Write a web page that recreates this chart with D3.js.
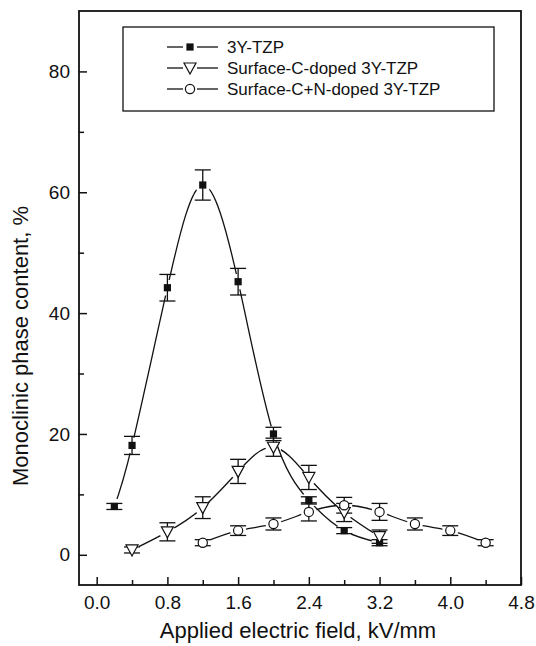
<!DOCTYPE html>
<html>
<head>
<meta charset="utf-8">
<script src="https://cdn.jsdelivr.net/npm/d3@7"></script>
<style>
  body { margin: 0; background: #fff; }
  text { font-family: "Liberation Sans", Arial, sans-serif; fill: #111; }
</style>
</head>
<body>
<div id="chart"></div>
<script>
// field values, kV/mm
var fieldTZP = [0.2, 0.4, 0.8, 1.2, 1.6, 2.0, 2.4, 2.8, 3.2];
var monoTZP = [8, 18.1, 44.2, 61.2, 45.2, 20, 9, 4, 2];
var errTZP = [0.5, 1.5, 2.2, 2.5, 2.2, 1.1, 0.6, 0.5, 0.5];

var fieldC = [0.4, 0.8, 1.2, 1.6, 2.0, 2.4, 2.8, 3.2];
var monoC = [0.8, 3.8, 7.8, 13.8, 17.8, 12.8, 7, 3];
var errC = [0.5, 1.5, 1.8, 2, 1.5, 2, 1.5, 1.1];

var fieldCN = [1.2, 1.6, 2.0, 2.4, 2.8, 3.2, 3.6, 4.0, 4.4];
var monoCN = [2, 4, 5.1, 7.1, 8.2, 7.1, 5.1, 4, 2];
var errCN = [0.5, 0.8, 1, 1.5, 1.3, 1.4, 1, 0.8, 0.5];

var seriesNames = ["3Y-TZP", "Surface-C-doped 3Y-TZP", "Surface-C+N-doped 3Y-TZP"];
var xMajor = [0, 0.8, 1.6, 2.4, 3.2, 4.0, 4.8];
var xMinor = [0.4, 1.2, 2.0, 2.8, 3.6, 4.4];
var yMajor = [0, 20, 40, 60, 80];
var yMinor = [10, 30, 50, 70];

var width = 536, height = 646;
var margin = {top: 11, right: 15, bottom: 61, left: 79};
var iw = width - margin.left - margin.right,
    ih = height - margin.top - margin.bottom;

var svg = d3.select("#chart").append("svg")
    .attr("width", width)
    .attr("height", height);

var x = d3.scaleLinear().domain([-0.2, 4.8]).range([0, iw]);
var y = d3.scaleLinear().domain([-5, 90]).range([ih, 0]);

var g = svg.append("g")
    .attr("transform", "translate(" + margin.left + "," + margin.top + ")");

// axes, ticks point inward
g.append("g")
    .attr("transform", "translate(0," + ih + ")")
    .call(d3.axisBottom(x).tickValues(xMajor).tickFormat(d3.format(".1f"))
      .tickSizeInner(-8).tickSizeOuter(0).tickPadding(11));
g.append("g")
    .attr("transform", "translate(0," + ih + ")")
    .call(d3.axisBottom(x).tickValues(xMinor).tickFormat("")
      .tickSizeInner(-5).tickSizeOuter(0));
g.append("g")
    .call(d3.axisLeft(y).tickValues(yMajor).tickFormat(d3.format("d"))
      .tickSizeInner(-8).tickSizeOuter(0).tickPadding(9));
g.append("g")
    .call(d3.axisLeft(y).tickValues(yMinor).tickFormat("")
      .tickSizeInner(-5).tickSizeOuter(0));

g.selectAll(".domain").remove();
g.selectAll(".tick line").attr("stroke", "#111").attr("stroke-width", 1.5);
g.selectAll(".tick text").attr("font-size", 19).attr("fill", "#111");

g.append("rect")
    .attr("width", iw).attr("height", ih)
    .attr("fill", "none").attr("stroke", "#111").attr("stroke-width", 1.8);

svg.append("text")
    .attr("x", 298).attr("y", 638)
    .attr("text-anchor", "middle").attr("font-size", 22)
    .text("Applied electric field, kV/mm");
svg.append("text")
    .attr("transform", "translate(28,346) rotate(-90)")
    .attr("text-anchor", "middle").attr("font-size", 22)
    .text("Monoclinic phase content, %");

var series = [
  {xs: fieldTZP, ys: monoTZP, es: errTZP, sym: "square"},
  {xs: fieldC, ys: monoC, es: errC, sym: "triangle"},
  {xs: fieldCN, ys: monoCN, es: errCN, sym: "circle"}
];

function drawSymbol(sel, sym, cx, cy) {
  if (sym == "square") {
    sel.append("rect").attr("x", cx - 3.6).attr("y", cy - 3.6)
      .attr("width", 7.2).attr("height", 7.2).attr("fill", "#111");
  } else if (sym == "triangle") {
    sel.append("path")
      .attr("d", "M" + (cx - 6) + "," + (cy - 5) + "L" + (cx + 6) + "," + (cy - 5) + "L" + cx + "," + (cy + 6) + "Z")
      .attr("fill", "#fff").attr("stroke", "#111").attr("stroke-width", 1.2);
  } else {
    sel.append("circle").attr("cx", cx).attr("cy", cy).attr("r", 4.6)
      .attr("fill", "#fff").attr("stroke", "#111").attr("stroke-width", 1.2);
  }
}

var defs = svg.append("defs");
var line = d3.line().curve(d3.curveNatural);

series.forEach(function(s, i) {
  var pts = s.xs.map(function(v, j) { return [x(v), y(s.ys[j])]; });

  // gap in the curve around each of its own points
  var mask = defs.append("mask").attr("id", "gap" + i)
      .attr("maskUnits", "userSpaceOnUse")
      .attr("x", -50).attr("y", -50).attr("width", iw + 100).attr("height", ih + 100);
  mask.append("rect").attr("x", -50).attr("y", -50)
      .attr("width", iw + 100).attr("height", ih + 100).attr("fill", "#fff");
  mask.selectAll("circle").data(pts).enter().append("circle")
      .attr("cx", function(d) { return d[0]; })
      .attr("cy", function(d) { return d[1]; })
      .attr("r", 8).attr("fill", "#000");

  g.append("path")
      .attr("d", line(pts))
      .attr("fill", "none").attr("stroke", "#111").attr("stroke-width", 1.3)
      .attr("mask", "url(#gap" + i + ")");
});

series.forEach(function(s) {
  var eg = g.append("g").attr("stroke", "#111").attr("stroke-width", 1.3);
  s.xs.forEach(function(v, j) {
    var cx = x(v), y0 = y(s.ys[j] - s.es[j]), y1 = y(s.ys[j] + s.es[j]);
    eg.append("line").attr("x1", cx).attr("x2", cx).attr("y1", y0).attr("y2", y1);
    eg.append("line").attr("x1", cx - 8).attr("x2", cx + 8).attr("y1", y0).attr("y2", y0);
    eg.append("line").attr("x1", cx - 8).attr("x2", cx + 8).attr("y1", y1).attr("y2", y1);
  });
});

series.forEach(function(s) {
  var mg = g.append("g");
  s.xs.forEach(function(v, j) { drawSymbol(mg, s.sym, x(v), y(s.ys[j])); });
});

// legend
var lg = svg.append("g");
lg.append("rect")
    .attr("x", 123).attr("y", 27).attr("width", 371).attr("height", 84)
    .attr("fill", "#fff").attr("stroke", "#111").attr("stroke-width", 1.3);
var rowY = [47, 68, 89];
series.forEach(function(s, i) {
  var ly = rowY[i];
  lg.append("line").attr("x1", 167).attr("x2", 183).attr("y1", ly).attr("y2", ly)
    .attr("stroke", "#111").attr("stroke-width", 1.3);
  lg.append("line").attr("x1", 197).attr("x2", 218).attr("y1", ly).attr("y2", ly)
    .attr("stroke", "#111").attr("stroke-width", 1.3);
  drawSymbol(lg, s.sym, 190, ly);
  lg.append("text").attr("x", 227).attr("y", ly + 6)
    .attr("font-size", 17).text(seriesNames[i]);
});
</script>
</body>
</html>
